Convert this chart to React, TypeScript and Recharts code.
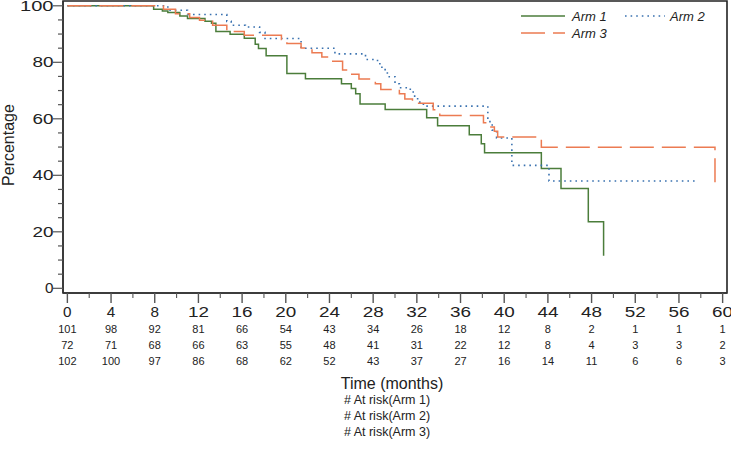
import React from 'react';
import { LineChart, Line, XAxis, YAxis, ReferenceArea, Legend } from 'recharts';

// ---------- data ----------
const seriesNames = ['Arm 1', 'Arm 2', 'Arm 3'];

const arm1Months = [0, 7.9, 8.7, 9.2, 10.3, 11.0, 12.6, 13.2, 13.6, 14.9, 16.2, 17.2, 17.5, 18.2, 20.1, 21.8, 25.1, 26.0, 26.4, 26.8, 29.1, 32.9, 33.9, 36.8, 37.9, 38.2, 43.4, 45.2, 47.7, 49.1];
const arm1Pct = [100, 98.8, 98.2, 97.6, 96.4, 95.5, 94.5, 93.8, 90.9, 89.9, 88.5, 86.4, 84.9, 82.3, 76.0, 74.2, 72.4, 70.7, 68.9, 65.2, 63.3, 60.4, 57.5, 54.4, 51.2, 48.0, 42.4, 35.3, 23.6, 11.5];

const arm2Months = [0, 9.2, 11.0, 14.6, 15.0, 16.3, 17.6, 18.1, 21.4, 24.5, 27.3, 28.4, 28.8, 29.3, 30.0, 30.4, 31.4, 31.8, 32.2, 32.6, 38.5, 38.9, 39.3, 40.7, 44.1, 57.5];
const arm2Pct = [100, 98.4, 96.9, 94.5, 93.1, 92.5, 90.6, 88.4, 85.0, 83.0, 81.0, 79.5, 77.4, 74.9, 72.4, 71.0, 69.5, 67.1, 65.9, 64.5, 59.0, 56.0, 53.2, 43.5, 38.0, 38.0];

const arm3Months = [0, 8.8, 9.9, 11.2, 12.1, 13.3, 14.6, 16.2, 19.6, 20.1, 21.4, 22.4, 23.3, 23.9, 25.2, 25.9, 26.7, 28.2, 28.7, 30.4, 30.9, 31.6, 33.5, 34.1, 38.1, 38.7, 39.1, 39.4, 43.4, 59.3];
const arm3Pct = [100, 98.8, 97.2, 95.9, 94.9, 93.1, 90.9, 89.6, 88.1, 86.7, 85.1, 83.4, 81.9, 80.4, 77.3, 75.8, 74.1, 72.4, 70.4, 68.9, 67.0, 65.5, 63.2, 61.2, 58.6, 57.1, 55.6, 53.6, 49.9, 37.3];

const xTickValues = [0, 2, 4, 6, 8, 10, 12, 14, 16, 18, 20, 22, 24, 26, 28, 30, 32, 34, 36, 38, 40, 42, 44, 46, 48, 50, 52, 54, 56, 58, 60];
const xTickLabels = [0, 4, 8, 12, 16, 20, 24, 28, 32, 36, 40, 44, 48, 52, 56, 60];
const yTickValues = [0, 5, 10, 15, 20, 25, 30, 35, 40, 45, 50, 55, 60, 65, 70, 75, 80, 85, 90, 95, 100];
const yTickLabels = [0, 20, 40, 60, 80, 100];

const atRisk1 = [101, 98, 92, 81, 66, 54, 43, 34, 26, 18, 12, 8, 2, 1, 1, 1];
const atRisk2 = [72, 71, 68, 66, 63, 55, 48, 41, 31, 22, 12, 8, 4, 3, 3, 2];
const atRisk3 = [102, 100, 97, 86, 68, 62, 52, 43, 37, 27, 16, 14, 11, 6, 6, 3];
const atRiskLabels = ['# At risk(Arm 1)', '# At risk(Arm 2)', '# At risk(Arm 3)'];

const xAxisTitle = 'Time (months)';
const yAxisTitle = 'Percentage';

// ---------- styling ----------
const FONT = '"Liberation Sans", Arial, Helvetica, sans-serif';
const COLORS = ['#4b7d3b', '#3a72b0', '#ec7b52'];
const DASHES = [undefined, '1.6 4', '24 8'];
const X_MIN = -0.4;
const X_MAX = 60.4;
const Y_MIN = -1.66;
const Y_MAX = 101.7;

const toPoints = (ts: number[], ps: number[]) => ts.map((t, i) => ({ t, p: ps[i] }));
const arm1 = toPoints(arm1Months, arm1Pct);
const arm2 = toPoints(arm2Months, arm2Pct);
const arm3 = toPoints(arm3Months, arm3Pct);
const seriesData = [arm1, arm2, arm3];

const stretch = (s: string) => 8.5 + (s.length - 1) * 12.5;

const XTick = (props: any) => {
  const { x, y, payload } = props;
  const v = payload.value;
  const idx = xTickLabels.indexOf(v);
  const major = idx >= 0;
  const label = String(v);
  return (
    <g>
      <line x1={x} x2={x} y1={y} y2={y + (major ? 10 : 5)} stroke="#555" strokeWidth={major ? 1.4 : 1.1} />
      {major && (
        <g fontFamily={FONT} fill="#222">
          <text x={x} y={y + 24} textAnchor="middle" fontSize={14} textLength={stretch(label)} lengthAdjust="spacingAndGlyphs">{label}</text>
          <text x={x} y={y + 40} textAnchor="middle" fontSize={11}>{atRisk1[idx]}</text>
          <text x={x} y={y + 56} textAnchor="middle" fontSize={11}>{atRisk2[idx]}</text>
          <text x={x} y={y + 72} textAnchor="middle" fontSize={11}>{atRisk3[idx]}</text>
        </g>
      )}
    </g>
  );
};

const YTick = (props: any) => {
  const { x, y, payload } = props;
  const v = payload.value;
  const major = yTickLabels.indexOf(v) >= 0;
  const label = String(v);
  return (
    <g>
      <line x1={x - (major ? 10 : 5)} x2={x} y1={y} y2={y} stroke="#555" strokeWidth={1.2} />
      {major && (
        <text x={x - 9.5} y={y + 5} textAnchor="end" fontSize={14} fontFamily={FONT} fill="#222" textLength={stretch(label)} lengthAdjust="spacingAndGlyphs">{label}</text>
      )}
    </g>
  );
};

const XLabel = (props: any) => {
  const vb = props.viewBox || { x: 63, y: 293, width: 664 };
  const cx = vb.x + vb.width / 2 - 3;
  return (
    <g fontFamily={FONT} fill="#222">
      <text x={cx} y={vb.y + 96} textAnchor="middle" fontSize={16}>{xAxisTitle}</text>
      {atRiskLabels.map((s, i) => (
        <text key={s} x={cx - 5} y={vb.y + 111 + i * 16} textAnchor="middle" fontSize={12.5}>{s}</text>
      ))}
    </g>
  );
};

const YLabel = () => {
  const cy = 145;
  return (
    <text x={14} y={cy} transform={`rotate(-90, 14, ${cy})`} textAnchor="middle" fontSize={16} fontFamily={FONT} fill="#222">{yAxisTitle}</text>
  );
};

const LegendContent = () => {
  const slots = [
    { lx: 6, ly: 12 },
    { lx: 110, ly: 12 },
    { lx: 6, ly: 29 },
  ];
  return (
    <svg width={210} height={42} style={{ display: 'block' }}>
      {seriesNames.map((name, i) => {
        const s = slots[i];
        return (
          <g key={name}>
            <line x1={s.lx} x2={s.lx + (i === 1 ? 40 : 44)} y1={s.ly} y2={s.ly} stroke={COLORS[i]} strokeWidth={1.5} strokeDasharray={DASHES[i]} />
            <text x={s.lx + (i === 1 ? 45 : 51)} y={s.ly + 4.5} fontSize={13} fontStyle="italic" fontFamily={FONT} fill="#222">{name}</text>
          </g>
        );
      })}
    </svg>
  );
};

export default function App() {
  return (
    <div style={{ position: 'absolute', left: 0, top: 0, width: 731, height: 457, background: '#fff' }}>
      <LineChart width={731} height={457} margin={{ top: 1, right: 4, bottom: 0, left: 0 }}>
        <ReferenceArea x1={X_MIN} x2={X_MAX} y1={Y_MIN} y2={Y_MAX} fill="none" stroke="#222" strokeWidth={1.6} ifOverflow="visible" />
        <XAxis
          type="number"
          dataKey="t"
          domain={[X_MIN, X_MAX]}
          ticks={xTickValues}
          interval={0}
          allowDataOverflow
          tick={(p: any) => <XTick {...p} />}
          tickLine={false}
          tickSize={0}
          tickMargin={0}
          height={164}
          axisLine={{ stroke: '#333', strokeWidth: 1.3 }}
          label={(p: any) => <XLabel {...p} />}
        />
        <YAxis
          type="number"
          domain={[Y_MIN, Y_MAX]}
          ticks={yTickValues}
          interval={0}
          allowDataOverflow
          tick={(p: any) => <YTick {...p} />}
          tickLine={false}
          tickSize={0}
          tickMargin={0}
          width={63}
          axisLine={{ stroke: '#333', strokeWidth: 1.3 }}
          label={() => <YLabel />}
        />
        <Legend
          layout="vertical"
          align="center"
          verticalAlign="middle"
          wrapperStyle={{ position: 'absolute', left: 515, top: 4, width: 210, height: 42 }}
          content={() => <LegendContent />}
        />
        {seriesData.map((d, i) => (
          <Line
            key={seriesNames[i]}
            name={seriesNames[i]}
            data={d}
            dataKey="p"
            type="stepAfter"
            stroke={COLORS[i]}
            strokeWidth={i === 1 ? 1.6 : 1.5}
            strokeDasharray={DASHES[i]}
            dot={false}
            activeDot={false}
            isAnimationActive={false}
          />
        ))}
      </LineChart>
    </div>
  );
}
